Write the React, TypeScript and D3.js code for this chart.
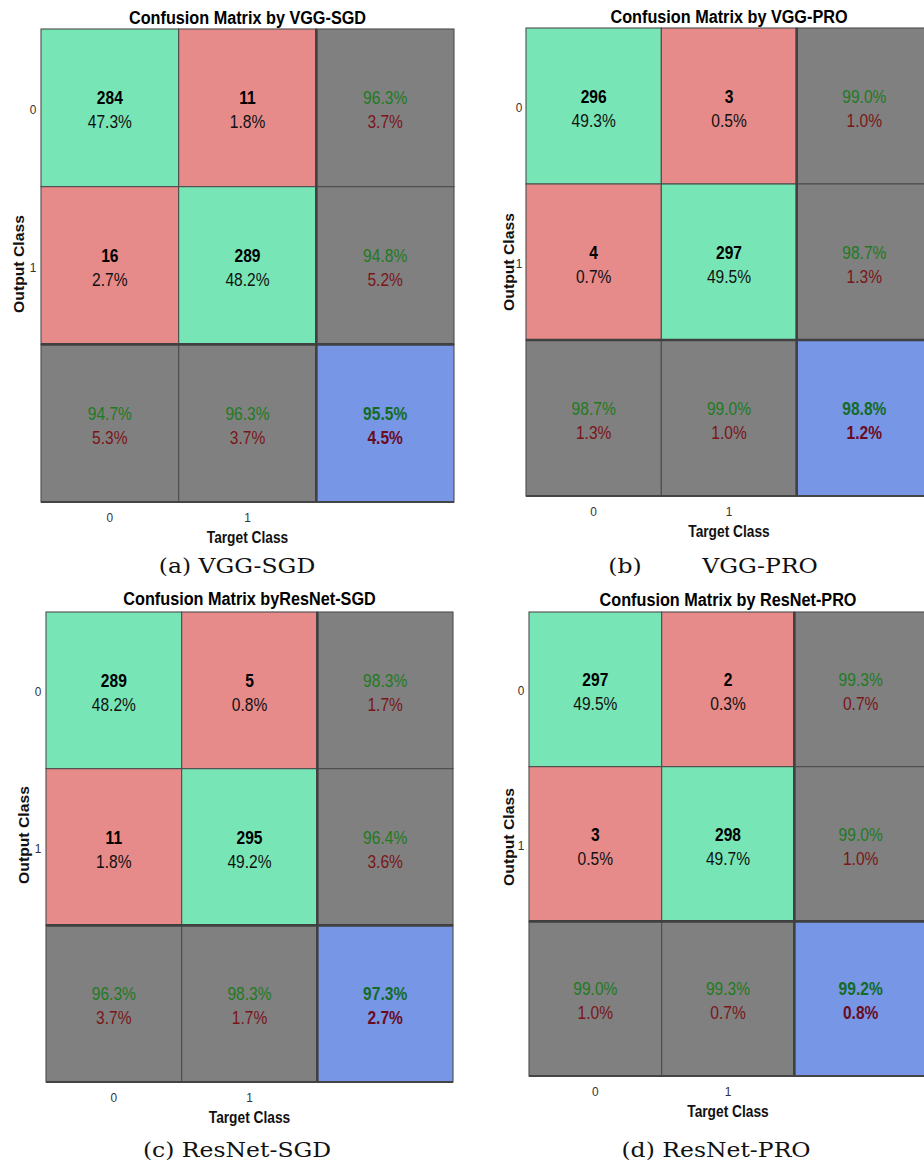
import React from "react";
import * as d3 from "d3";

// ---- data ----
const classLabels = ["0", "1"];
const vggSgdCounts = [
  [284, 11],
  [16, 289],
];
const vggProCounts = [
  [296, 3],
  [4, 297],
];
const resnetSgdCounts = [
  [289, 5],
  [11, 295],
];
const resnetProCounts = [
  [297, 2],
  [3, 298],
];
const panelTitles = [
  "Confusion Matrix by VGG-SGD",
  "Confusion Matrix by VGG-PRO",
  "Confusion Matrix byResNet-SGD",
  "Confusion Matrix by ResNet-PRO",
];
const captionTexts = [["(a) VGG-SGD"], ["(b)", "VGG-PRO"], ["(c) ResNet-SGD"], ["(d) ResNet-PRO"]];
const xAxisLabel = "Target Class";
const yAxisLabel = "Output Class";

const allCounts = [vggSgdCounts, vggProCounts, resnetSgdCounts, resnetProCounts];

// ---- layout / style ----
const layouts = [
  { x0: 41, x1: 454, y0: 29, y1: 502, titleY: 24, yTickX: 33, yLabX: 18.5, yLabY: 264, capX: [237], capY: 573 },
  { x0: 526, x1: 932, y0: 28, y1: 496, titleY: 23, yTickX: 519, yLabX: 508.5, yLabY: 262, capX: [625, 760], capY: 573 },
  { x0: 46, x1: 453, y0: 612, y1: 1082, titleY: 605, yTickX: 38, yLabX: 23, yLabY: 835, capX: [237], capY: 1157 },
  { x0: 529, x1: 927, y0: 612, y1: 1076, titleY: 606, yTickX: 521, yLabX: 508, yLabY: 837, capX: [716], capY: 1157 },
];

const GREEN = "#78e5b6";
const RED = "#e68a8a";
const GRAY = "#808080";
const BLUE = "#7796e6";
const TXT_GREEN = "#1f7a22";
const TXT_RED = "#7a1518";
const SANS = "'Liberation Sans', Arial, sans-serif";
const SERIF = "'DejaVu Serif', serif";

const fmt = (v: number) => v.toFixed(1) + "%";

function SText({ x, y, sx = 0.89, size, weight = "normal", fill = "#000", anchor = "middle", family = SANS, children }: any) {
  return (
    <text
      transform={`translate(${x},${y}) scale(${sx},1)`}
      fontSize={size}
      fontWeight={weight}
      fill={fill}
      textAnchor={anchor}
      fontFamily={family}
    >
      {children}
    </text>
  );
}

function Panel({ counts, title, caption, L }: any) {
  const keys = ["0", "1", "T"];
  const x = d3.scaleBand<string>().domain(keys).range([L.x0, L.x1]).padding(0);
  const y = d3.scaleBand<string>().domain(keys).range([L.y0, L.y1]).padding(0);
  const total = d3.sum(counts.flat() as number[]);
  const rowSums = counts.map((r: number[]) => d3.sum(r));
  const colSums = [0, 1].map((j) => counts[0][j] + counts[1][j]);
  const correct = counts[0][0] + counts[1][1];

  type Cell = { r: string; c: string; fill: string; l1: string; l2: string; c1: string; c2: string; w1: string; w2: string };
  const cells: Cell[] = [];
  for (let i = 0; i < 2; i++) {
    for (let j = 0; j < 2; j++) {
      const v = counts[i][j];
      cells.push({
        r: keys[i], c: keys[j], fill: i === j ? GREEN : RED,
        l1: String(v), l2: fmt((100 * v) / total), c1: "#000", c2: "#111", w1: "bold", w2: "normal",
      });
    }
    const p = (100 * counts[i][i]) / rowSums[i];
    cells.push({ r: keys[i], c: "T", fill: GRAY, l1: fmt(p), l2: fmt(100 - p), c1: TXT_GREEN, c2: TXT_RED, w1: "normal", w2: "normal" });
  }
  for (let j = 0; j < 2; j++) {
    const p = (100 * counts[j][j]) / colSums[j];
    cells.push({ r: "T", c: keys[j], fill: GRAY, l1: fmt(p), l2: fmt(100 - p), c1: TXT_GREEN, c2: TXT_RED, w1: "normal", w2: "normal" });
  }
  const pa = (100 * correct) / total;
  cells.push({ r: "T", c: "T", fill: BLUE, l1: fmt(pa), l2: fmt(100 - pa), c1: "#136b26", c2: "#6a0c1e", w1: "bold", w2: "bold" });

  const bw = x.bandwidth();
  const bh = y.bandwidth();
  const cx = (L.x0 + L.x1) / 2;

  return (
    <g>
      <SText x={cx} y={L.titleY} size={19} sx={0.855} weight="bold">{title}</SText>
      {cells.map((d, k) => (
        <rect key={"r" + k} x={x(d.c)} y={y(d.r)} width={bw} height={bh} fill={d.fill} stroke="#4d4d4d" strokeWidth={1.1} />
      ))}
      {/* separators */}
      <line x1={L.x0} x2={L.x1} y1={y("T")} y2={y("T")} stroke="#404040" strokeWidth={2.6} />
      <line x1={x("T")} x2={x("T")} y1={L.y0} y2={L.y1} stroke="#404040" strokeWidth={2.6} />
      <line x1={L.x0} x2={L.x1} y1={L.y1} y2={L.y1} stroke="#444" strokeWidth={2} />
      {cells.map((d, k) => {
        const mx = (x(d.c) as number) + bw / 2;
        const my = (y(d.r) as number) + bh / 2;
        return (
          <g key={"t" + k}>
            <SText x={mx} y={my - 3.5} size={17.5} weight={d.w1} fill={d.c1}>{d.l1}</SText>
            <SText x={mx} y={my + 20.5} size={17.5} weight={d.w2} fill={d.c2}>{d.l2}</SText>
          </g>
        );
      })}
      {classLabels.map((lab) => (
        <g key={"yt" + lab}>
          <SText x={L.yTickX} y={(y(lab) as number) + bh / 2 + 6} size={12.5} sx={0.95} fill="#333">{lab}</SText>
          <SText x={(x(lab) as number) + bw / 2} y={L.y1 + 19.5} size={12.5} sx={0.95} fill="#333">{lab}</SText>
        </g>
      ))}
      <SText x={cx} y={L.y1 + 40.5} size={16} sx={0.86} weight="bold" fill="#111">{xAxisLabel}</SText>
      <text
        transform={`translate(${L.yLabX + 5.5},${L.yLabY}) rotate(-90) scale(1.05,1)`}
        fontSize={15}
        fontWeight="bold"
        fill="#111"
        textAnchor="middle"
        fontFamily={SANS}
      >
        {yAxisLabel}
      </text>
      {caption.map((c: string, i: number) => (
        <SText key={"c" + i} x={L.capX[i]} y={L.capY} size={21} sx={1.12} family={SERIF} fill="#111">{c}</SText>
      ))}
    </g>
  );
}

export default function App() {
  return (
    <svg
      width={924}
      height={1164}
      viewBox="0 0 924 1164"
      style={{ position: "absolute", left: 0, top: 0, background: "#fff", display: "block" }}
    >
      <rect x={0} y={0} width={924} height={1164} fill="#fff" />
      {allCounts.map((c, i) => (
        <Panel key={i} counts={c} title={panelTitles[i]} caption={captionTexts[i]} L={layouts[i]} />
      ))}
    </svg>
  );
}
